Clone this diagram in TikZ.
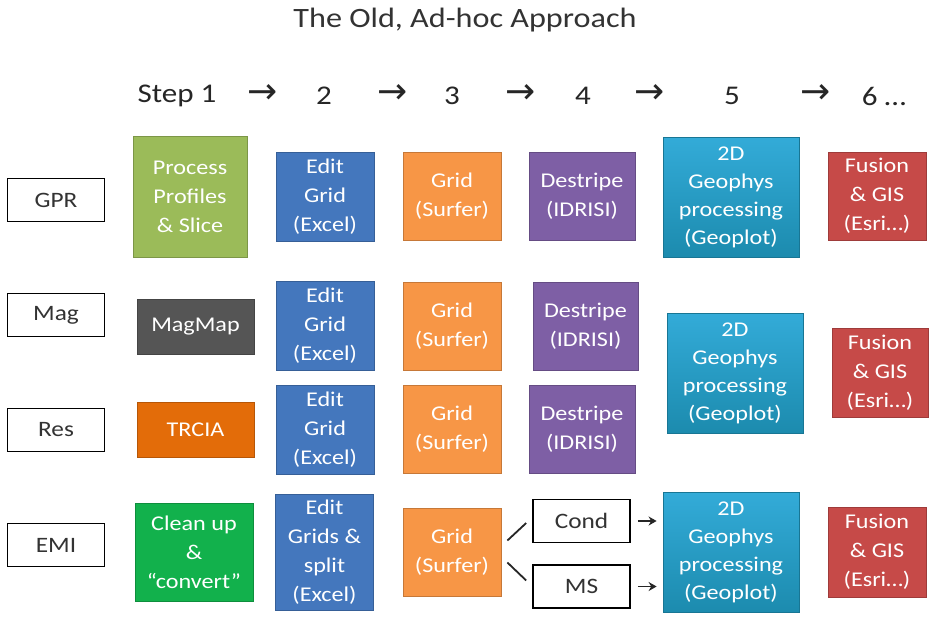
\documentclass[tikz,border=0pt]{standalone}
\usepackage{fontspec}
\setmainfont{Carlito}[FakeStretch=1.15]
\newfontfamily\symfont{DejaVu Sans}
\usepackage{xcolor}
\usepackage{tikz}
\usetikzlibrary{arrows.meta}

\definecolor{gprGreen}{HTML}{9BBB59}
\definecolor{magGray}{HTML}{555555}
\definecolor{resOrange}{HTML}{E36C09}
\definecolor{emiGreen}{HTML}{12B14C}
\definecolor{editBlue}{HTML}{4477BD}
\definecolor{gridOrange}{HTML}{F79646}
\definecolor{stripePurple}{HTML}{7E5FA5}
\definecolor{geoTop}{HTML}{33ABD8}
\definecolor{geoBot}{HTML}{1C8BAE}
\definecolor{fusionRed}{HTML}{C64A48}

\tikzset{
  hdr/.style={font=\fontsize{27}{30}\selectfont, text=black!85},
  harrow/.style={font=\symfont\fontsize{36}{36}\selectfont, text=black!85},
  lbl/.style={draw=black, line width=1.6pt, inner sep=0pt, minimum width=97pt, minimum height=43pt,
    font=\fontsize{22}{26}\selectfont, text=black!80},
  tool/.style={fill=#1, draw=#1!80!black, line width=0.8pt, text=white, align=center, inner sep=0pt,
    font=\fontsize{21}{29}\selectfont},
  sq/.style={minimum width=98pt, minimum height=88pt},
  geo/.style={top color=geoTop, bottom color=geoBot, draw=geoBot!85!black, line width=0.8pt, text=white,
    align=center, inner sep=0pt, minimum width=136pt, minimum height=120pt, font=\fontsize{21}{28}\selectfont},
  link/.style={line width=1.8pt, black!85},
}

\begin{document}
\begin{tikzpicture}[x=1pt, y=-1pt]
  \useasboundingbox[fill=white] (0,0) rectangle (930,619);

  % title and step row
  \node[font=\fontsize{28}{32}\selectfont, text=black!80] (title) at (465,20) {The Old, Ad-hoc Approach};
  \node[hdr] (s1) at (177,96) {Step 1};
  \node[harrow] (a1) at (263,94) {→};
  \node[hdr] (s2) at (324,96) {2};
  \node[harrow] (a2) at (393,94) {→};
  \node[hdr] (s3) at (452,96) {3};
  \node[harrow] (a3) at (521,94) {→};
  \node[hdr] (s4) at (583,96) {4};
  \node[harrow] (a4) at (650,94) {→};
  \node[hdr] (s5) at (732,96) {5};
  \node[harrow] (a5) at (816,94) {→};
  \node[hdr] (s6) at (884,96) {6 …};

  % data types
  \node[lbl] (gpr) at (56,200) {GPR};
  \node[lbl] (mag) at (56,315) {Mag};
  \node[lbl] (res) at (56,430) {Res};
  \node[lbl] (emi) at (56,545) {EMI};

  % step 1
  \node[tool=gprGreen, minimum width=114pt, minimum height=121pt] (proc) at (190,196.5) {Process\\Profiles\\\& Slice};
  \node[tool=magGray, minimum width=117pt, minimum height=55pt] (magmap) at (195.5,326.5) {MagMap};
  \node[tool=resOrange, minimum width=117pt, minimum height=55pt] (trcia) at (195.5,429.5) {TRCIA};
  \node[tool=emiGreen, minimum width=118pt, minimum height=98pt] (clean) at (194,552) {Clean up\\\&\\“convert”};

  % step 2
  \node[tool=editBlue, sq, minimum height=89pt] (edit1) at (325,196.5) {Edit\\Grid\\(Excel)};
  \node[tool=editBlue, sq, minimum height=89pt] (edit2) at (325,325.5) {Edit\\Grid\\(Excel)};
  \node[tool=editBlue, sq, minimum height=89pt] (edit3) at (325,430) {Edit\\Grid\\(Excel)};
  \node[tool=editBlue, sq, minimum height=116pt] (edit4) at (324.5,552) {Edit\\Grids \&\\split\\(Excel)};

  % step 3
  \node[tool=gridOrange, sq] (grid1) at (452,196) {Grid\\(Surfer)};
  \node[tool=gridOrange, sq] (grid2) at (452,326) {Grid\\(Surfer)};
  \node[tool=gridOrange, sq] (grid3) at (452,429.5) {Grid\\(Surfer)};
  \node[tool=gridOrange, sq] (grid4) at (452,552.5) {Grid\\(Surfer)};

  % step 4
  \node[tool=stripePurple, sq, minimum width=106pt] (strip1) at (582,196) {Destripe\\(IDRISI)};
  \node[tool=stripePurple, sq, minimum width=105pt] (strip2) at (585.5,326) {Destripe\\(IDRISI)};
  \node[tool=stripePurple, sq, minimum width=106pt] (strip3) at (582,429.5) {Destripe\\(IDRISI)};
  \node[lbl] (cond) at (581.5,521) {Cond};
  \node[lbl] (ms) at (581.5,586.5) {MS};

  % step 5
  \node[geo] (geo1) at (731,197) {2D\\Geophys\\processing\\(Geoplot)};
  \node[geo] (geo2) at (735,373) {2D\\Geophys\\processing\\(Geoplot)};
  \node[geo] (geo3) at (731,552.5) {2D\\Geophys\\processing\\(Geoplot)};

  % step 6
  \node[tool=fusionRed, sq] (fus1) at (877,196) {Fusion\\\& GIS\\(Esri…)};
  \node[tool=fusionRed, sq, minimum width=96pt, minimum height=89pt] (fus2) at (880,372.5) {Fusion\\\& GIS\\(Esri…)};
  \node[tool=fusionRed, sq, minimum height=90pt] (fus3) at (877,552) {Fusion\\\& GIS\\(Esri…)};

  % EMI split
  \draw[link] ([xshift=6pt,yshift=12pt]grid4.east) -- ([xshift=-6pt,yshift=-2pt]cond.west);
  \draw[link] ([xshift=6pt,yshift=-10pt]grid4.east) -- ([xshift=-6pt,yshift=6pt]ms.west);
  \draw[link, -{Stealth[length=8pt,width=9pt]}, shorten <=7pt, shorten >=6pt] (cond.east) -- (cond.east -| geo3.west);
  \draw[link, -{Stealth[length=8pt,width=9pt]}, shorten <=7pt, shorten >=6pt] (ms.east) -- (ms.east -| geo3.west);
\end{tikzpicture}
\end{document}
